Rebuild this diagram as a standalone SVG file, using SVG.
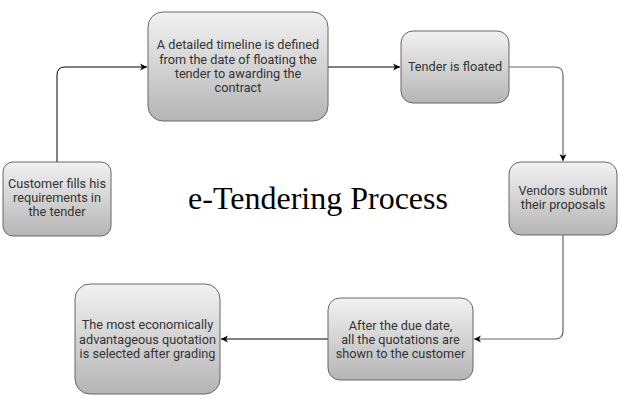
<svg xmlns="http://www.w3.org/2000/svg" width="620" height="406" viewBox="0 0 620 406">
<defs>
<linearGradient id="g" x1="0" y1="0" x2="0" y2="1">
<stop offset="0" stop-color="#f2f2f2"/>
<stop offset="1" stop-color="#b5b5b5"/>
</linearGradient>
<marker id="arr" markerWidth="8" markerHeight="8" refX="7" refY="4" orient="auto" markerUnits="userSpaceOnUse">
<path d="M0,0.5 L7,4 L0,7.5 L2,4 Z" fill="#000"/>
</marker>
<style>
.box{fill:url(#g);stroke:#666;stroke-width:1}
.t{font-family:Roboto,"Liberation Sans",sans-serif;font-size:12.7px;fill:#333;text-anchor:middle}
.c{fill:none;stroke:#000;stroke-width:1;marker-end:url(#arr)}
.c2{fill:none;stroke:#666;stroke-width:1.2;marker-end:url(#arr)}
</style>
</defs>
<rect width="620" height="406" fill="#fff"/>
<g id="connectors">
<path class="c" d="M57,162 V75 Q57,67 65,67 H147"/>
<path class="c" d="M328,67 H400"/>
<path class="c2" d="M509,67 H555 Q563,67 563,75 V161"/>
<path class="c2" d="M563,235 V331 Q563,339 555,339 H474"/>
<path class="c" d="M328,339 H221"/>
</g>
<g id="n1">
<rect class="box" x="148" y="12" width="180" height="109" rx="15"/>
<text class="t" x="238" y="49">A detailed timeline is defined</text>
<text class="t" x="238" y="64">from the date of floating the</text>
<text class="t" x="238" y="78">tender to awarding the</text>
<text class="t" x="238" y="92">contract</text>
</g>
<g id="n2">
<rect class="box" x="401" y="31" width="108" height="72" rx="12"/>
<text class="t" x="455" y="71">Tender is floated</text>
</g>
<g id="n3">
<rect class="box" x="509" y="162" width="108" height="73" rx="12"/>
<text class="t" x="563" y="195">Vendors submit</text>
<text class="t" x="563" y="209">their proposals</text>
</g>
<g id="n4">
<rect class="box" x="328" y="298" width="145" height="82" rx="12"/>
<text class="t" x="400.5" y="330">After the due date,</text>
<text class="t" x="400.5" y="344">all the quotations are</text>
<text class="t" x="400.5" y="358">shown to the customer</text>
</g>
<g id="n5">
<rect class="box" x="75" y="284" width="145" height="110" rx="15"/>
<text class="t" x="147.5" y="329">The most economically</text>
<text class="t" x="147.5" y="344">advantageous quotation</text>
<text class="t" x="147.5" y="358">is selected after grading</text>
</g>
<g id="n6">
<rect class="box" x="3" y="162" width="108" height="74" rx="10"/>
<text class="t" x="57" y="188">Customer fills his</text>
<text class="t" x="57" y="202">requirements in</text>
<text class="t" x="57" y="216">the tender</text>
</g>
<g id="title">
<text x="318" y="209" font-family="'Liberation Serif','Times New Roman',serif" font-size="32" fill="#000" text-anchor="middle">e-Tendering Process</text>
</g>
</svg>
